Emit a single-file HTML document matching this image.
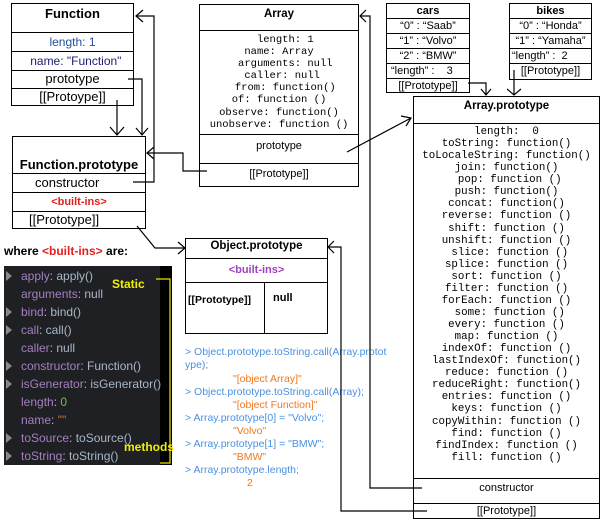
<!DOCTYPE html>
<html><head><meta charset="utf-8"><style>
*{margin:0;padding:0;box-sizing:border-box}
body{width:603px;height:525px;background:#fff;position:relative;overflow:hidden;font-family:"Liberation Sans",sans-serif;color:#000}
.a{position:absolute}
.b{position:absolute;border:1px solid #000;background:#fff}
.r{position:absolute;left:0;right:0;border-top:1px solid #000;text-align:center}
.c{text-align:center}
.m{font-family:"Liberation Mono",monospace}
.dk span.k{color:#a57fbf}
.dk span.v{color:#a9b7c6}
.dk div{position:absolute;left:0;font-size:12px;white-space:nowrap}
.tri{display:inline-block;width:0;height:0;border-left:6px solid #888;border-top:5px solid transparent;border-bottom:5px solid transparent;margin-right:9px;vertical-align:-1px}
.ns{display:inline-block;width:15px}
.con div{position:absolute;white-space:nowrap;font-size:10.5px}
</style></head><body>

<!-- Function -->
<div class="b" style="left:11px;top:3px;width:123px;height:103px">
 <div class="a c" style="left:0;right:0;top:2px;font-weight:bold;font-size:13px">Function</div>
 <div class="r" style="top:28px;height:19px;font-size:12px;color:#2050a0;line-height:18px">length: 1</div>
 <div class="r" style="top:47px;height:19px;font-size:12px;color:#202070;line-height:18px">&nbsp;&nbsp;name: "Function"</div>
 <div class="r" style="top:66px;height:18px;font-size:13px;line-height:16px">prototype</div>
 <div class="r" style="top:84px;height:18px;font-size:13px;line-height:16px">[[Protoype]]</div>
</div>

<!-- Function.prototype -->
<div class="b" style="left:12px;top:136px;width:134px;height:93px">
 <div class="a c" style="left:0;right:0;top:20px;font-weight:bold;font-size:13px">Function.prototype</div>
 <div class="r" style="top:36px;height:19px;font-size:13px;line-height:17px;text-align:left;padding-left:22px">constructor</div>
 <div class="r" style="top:55px;height:19px;font-size:11px;line-height:18px;color:#e02020;font-weight:bold">&lt;built-ins&gt;</div>
 <div class="r" style="top:74px;height:18px;font-size:13px;line-height:16px;text-align:left;padding-left:16px">[[Prototype]]</div>
</div>

<!-- Array -->
<div class="b" style="left:199px;top:4px;width:160px;height:183px">
 <div class="a c" style="left:0;right:0;top:3px;font-weight:bold;font-size:11.5px">Array</div>
 <div class="r m" style="top:25px;height:104px;font-size:10.5px;line-height:12.1px;padding-top:3px">
  &nbsp;&nbsp;length: 1<br>name: Array<br>&nbsp;&nbsp;arguments: null<br>&nbsp;caller: null<br>&nbsp;&nbsp;from: function()<br>of: function ()<br>observe: function()<br>unobserve: function ()</div>
 <div class="r" style="top:129px;height:29px;font-size:11px;line-height:22px">prototype</div>
 <div class="r" style="top:158px;height:24px;font-size:11px;line-height:20px">[[Prototype]]</div>
</div>

<!-- cars -->
<div class="b" style="left:386px;top:3px;width:84px;height:90px;font-size:11px">
 <div class="a c" style="left:0;right:0;top:0;font-weight:bold;line-height:14px">cars</div>
 <div class="r" style="top:14px;height:15px;line-height:14px">“0” : “Saab”</div>
 <div class="r" style="top:29px;height:15px;line-height:14px">“1” : “Volvo”</div>
 <div class="r" style="top:44px;height:15px;line-height:14px">“2” : “BMW”</div>
 <div class="r" style="top:59px;height:15px;line-height:14px;text-align:left;padding-left:4px">“length” : &nbsp;&nbsp;&nbsp;3</div>
 <div class="r" style="top:74px;height:15px;line-height:14px">[[Prototype]]</div>
</div>

<!-- bikes -->
<div class="b" style="left:509px;top:3px;width:83px;height:77px;font-size:11px">
 <div class="a c" style="left:0;right:0;top:0;font-weight:bold;line-height:14px">bikes</div>
 <div class="r" style="top:14px;height:15px;line-height:14px">“0” : “Honda”</div>
 <div class="r" style="top:29px;height:15px;line-height:14px">“1” : “Yamaha”</div>
 <div class="r" style="top:44px;height:15px;line-height:14px;text-align:left;padding-left:2px">“length” : &nbsp;2</div>
 <div class="r" style="top:59px;height:16px;line-height:14px">[[Prototype]]</div>
</div>

<!-- Array.prototype -->
<div class="b" style="left:413px;top:96px;width:187px;height:423px">
 <div class="a c" style="left:0;right:0;top:3px;font-weight:bold;font-size:11.5px">Array.prototype</div>
 <div class="r m" style="top:26px;height:355px;font-size:10.8px;line-height:12.07px;padding-top:2px">
length: &nbsp;0<br>toString: function()<br>toLocaleString: function()<br>join: function()<br>&nbsp;pop: function ()<br>push: function()<br>concat: function()<br>reverse: function ()<br>shift: function ()<br>unshift: function ()<br>&nbsp;slice: function ()<br>splice: function ()<br>sort: function ()<br>filter: function ()<br>forEach: function ()<br>&nbsp;some: function ()<br>every: function ()<br>map: function ()<br>indexOf: function ()<br>lastIndexOf: function()<br>reduce: function ()<br>reduceRight: function()<br>entries: function ()<br>keys: function ()<br>copyWithin: function ()<br>find: function ()<br>findIndex: function ()<br>fill: function ()</div>
 <div class="r" style="top:381px;height:25px;font-size:11px;line-height:18px">constructor</div>
 <div class="r" style="top:406px;height:17px;font-size:11px;line-height:15px">[[Prototype]]</div>
</div>

<!-- Object.prototype -->
<div class="b" style="left:185px;top:238px;width:143px;height:96px">
 <div class="a c" style="left:0;right:0;top:1px;font-weight:bold;font-size:11.5px">Object.prototype</div>
 <div class="r" style="top:19px;height:24px;font-size:11px;line-height:22px;color:#a040c0;font-weight:bold">&lt;built-ins&gt;</div>
 <div class="r" style="top:43px;height:51px"></div>
 <div class="a" style="left:78px;top:43px;width:1px;height:51px;background:#000"></div>
 <div class="a" style="left:2px;top:55px;font-size:10.5px;font-weight:bold">[[Prototype]]</div>
 <div class="a" style="left:87px;top:53px;font-size:11px;font-weight:bold">null</div>
</div>

<!-- where text -->
<div class="a" style="left:4px;top:244px;font-size:12px;font-weight:bold">where <span style="color:#e02020">&lt;built-ins&gt;</span> are:</div>

<!-- dark panel -->
<div class="a dk" style="left:4px;top:266px;width:168px;height:199px;background:#1e2024">
 <div class="a" style="left:156px;top:0;width:12px;height:199px;background:#000"></div>
 <div style="top:3px;left:2px"><span class="tri"></span><span class="k">apply</span><span class="v">: apply()</span></div>
 <div style="top:21px;left:2px"><span class="ns"></span><span class="k">arguments</span><span class="v">: null</span></div>
 <div style="top:39px;left:2px"><span class="tri"></span><span class="k">bind</span><span class="v">: bind()</span></div>
 <div style="top:57px;left:2px"><span class="tri"></span><span class="k">call</span><span class="v">: call()</span></div>
 <div style="top:75px;left:2px"><span class="ns"></span><span class="k">caller</span><span class="v">: null</span></div>
 <div style="top:93px;left:2px"><span class="tri"></span><span class="k">constructor</span><span class="v">: Function()</span></div>
 <div style="top:111px;left:2px"><span class="tri"></span><span class="k">isGenerator</span><span class="v">: isGenerator()</span></div>
 <div style="top:129px;left:2px"><span class="ns"></span><span class="k">length</span><span class="v">: </span><span style="color:#6cc04a">0</span></div>
 <div style="top:147px;left:2px"><span class="ns"></span><span class="k">name</span><span class="v">: </span><span style="color:#d0703a">""</span></div>
 <div style="top:165px;left:2px"><span class="tri"></span><span class="k">toSource</span><span class="v">: toSource()</span></div>
 <div style="top:183px;left:2px"><span class="tri"></span><span class="k">toString</span><span class="v">: toString()</span></div>
 <div style="top:11px;left:108px;color:#f0f000;font-weight:bold;font-size:12px">Static</div>
 <div style="top:174px;left:120px;color:#f0f000;font-weight:bold;font-size:12px">methods</div>
</div>

<!-- console -->
<div class="a con" style="left:185px;top:346px;width:200px">
 <div style="top:0;left:0;color:#4a90e2">&gt; Object.prototype.toString.call(Array.protot</div>
 <div style="top:13px;left:0;color:#4a90e2">ype);</div>
 <div style="top:27px;left:48px;color:#f07820">"[object Array]"</div>
 <div style="top:40px;left:0;color:#4a90e2">&gt; Object.prototype.toString.call(Array);</div>
 <div style="top:53px;left:48px;color:#f07820">"[object Function]"</div>
 <div style="top:66px;left:0;color:#4a90e2">&gt; Array.prototype[0] = "Volvo";</div>
 <div style="top:79px;left:48px;color:#f07820">"Volvo"</div>
 <div style="top:92px;left:0;color:#4a90e2">&gt; Array.prototype[1] = "BMW";</div>
 <div style="top:105px;left:48px;color:#f07820">"BMW"</div>
 <div style="top:118px;left:0;color:#4a90e2">&gt; Array.prototype.length;</div>
 <div style="top:131px;left:62px;color:#f07820">2</div>
</div>

<svg class="a" style="left:0;top:0" width="603" height="525" viewBox="0 0 603 525">
<g fill="none" stroke="#000" stroke-width="1.2">
 <!-- yellow bracket -->
 <polyline points="156,279 170,279 170,463 160,463" stroke="#e8e000"/>
 <!-- Function [[Protoype]] -> Function.prototype -->
 <polyline points="117,100 117,135"/><polyline points="110,127 117,135 124,127"/>
 <!-- Function prototype -> Function.prototype -->
 <polyline points="128,79 142,79 142,135"/><polyline points="136,128 142,135 148,128"/>
 <!-- Function.prototype.constructor -> Function -->
 <polyline points="133,182 154,182 154,16 136,16"/><polyline points="143,10 136,16 143,22"/>
 <!-- Array [[Prototype]] -> Function.prototype -->
 <polyline points="207,171 183,171 183,153 147,153"/><polyline points="154,147 147,153 154,159"/>
 <!-- Function.prototype [[Prototype]] -> Object.prototype -->
 <polyline points="137,226 155,248 185,248"/><polyline points="178,242 185,248 178,254"/>
 <!-- Array prototype -> Array.prototype -->
 <line x1="347" y1="152" x2="411" y2="118"/><polyline points="401,116 411,118 406,126"/>
 <!-- cars -> Array.prototype -->
 <polyline points="468,83 486,83 486,95"/><polyline points="481,89 486,95 491,89"/>
 <!-- bikes -> Array.prototype -->
 <polyline points="514,70 514,95"/><polyline points="507,89 514,95 521,89"/>
 <!-- Array.prototype constructor -> Array -->
 <polyline points="422,488 370,488 370,16 360,16"/><polyline points="366,10 360,16 366,22"/>
 <!-- Array.prototype [[Prototype]] -> Object.prototype -->
 <polyline points="427,511 341,511 341,247 328,247"/><polyline points="334,241 328,247 334,253"/>
</g>
</svg>
</body></html>
